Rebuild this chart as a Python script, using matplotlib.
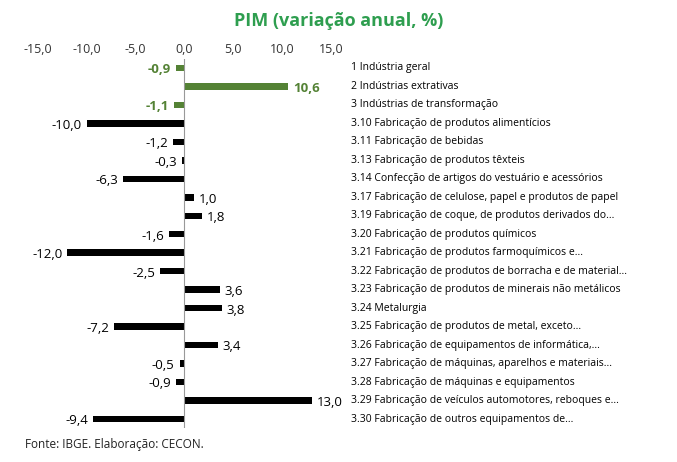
import numpy as np
import matplotlib.pyplot as plt

plt.rcParams['font.family'] = ['Open Sans', 'DejaVu Sans']

labels = ["1 Indústria geral", "2 Indústrias extrativas", "3 Indústrias de transformação",
          "3.10 Fabricação de produtos alimentícios", "3.11 Fabricação de bebidas",
          "3.13 Fabricação de produtos têxteis", "3.14 Confecção de artigos do vestuário e acessórios",
          "3.17 Fabricação de celulose, papel e produtos de papel",
          "3.19 Fabricação de coque, de produtos derivados do...",
          "3.20 Fabricação de produtos químicos", "3.21 Fabricação de produtos farmoquímicos e...",
          "3.22 Fabricação de produtos de borracha e de material...",
          "3.23 Fabricação de produtos de minerais não metálicos", "3.24 Metalurgia",
          "3.25 Fabricação de produtos de metal, exceto...",
          "3.26 Fabricação de equipamentos de informática,...",
          "3.27 Fabricação de máquinas, aparelhos e materiais...",
          "3.28 Fabricação de máquinas e equipamentos",
          "3.29 Fabricação de veículos automotores, reboques e...",
          "3.30 Fabricação de outros equipamentos de..."]
values = [-0.9, 10.6, -1.1, -10.0, -1.2, -0.3, -6.3, 1.0, 1.8, -1.6, -12.0, -2.5,
          3.6, 3.8, -7.2, 3.4, -0.5, -0.9, 13.0, -9.4]

green = '#548235'
colors = [green] * 3 + ['black'] * (len(values) - 3)

fig = plt.figure(figsize=(6.77, 4.62), dpi=100)
ax = fig.add_axes([0.056, 0.073, 0.433, 0.80])
y = np.arange(len(values))
ax.barh(y, values, height=0.35, color=colors)
ax.set_ylim(len(values) - 0.5, -0.5)
ax.set_xlim(-15, 15)
ax.set_xticks(np.arange(-15, 16, 5))
ax.set_xticklabels([f"{t:.1f}".replace('.', ',') for t in np.arange(-15, 16, 5)])
ax.xaxis.tick_top()
ax.tick_params(axis='x', length=0, labelsize=9, colors='#333333', pad=2)
ax.set_yticks([])
for s in ax.spines.values():
    s.set_visible(False)
ax.axvline(0, color='#999999', lw=0.8)

for i, (v, c) in enumerate(zip(values, colors)):
    txt = f"{v:.1f}".replace('.', ',')
    off = 0.5 if v >= 0 else -0.5
    ax.text(v + off, i + 0.1, txt, ha='left' if v >= 0 else 'right', va='center',
            fontsize=9.5, color=c, fontweight='bold' if c == green else 'normal')
    ax.text(17.0, i, labels[i], ha='left', va='center', fontsize=7.5, color='black',
            transform=ax.transData, clip_on=False)

fig.text(0.5, 0.955, "PIM (variação anual, %)", ha='center', va='center',
         fontsize=13, fontweight='bold', color='#2e9e4f')
fig.text(0.037, 0.03, "Fonte: IBGE. Elaboração: CECON.", fontsize=8.5, color='#222222')

fig.savefig('out.png', dpi=100)
